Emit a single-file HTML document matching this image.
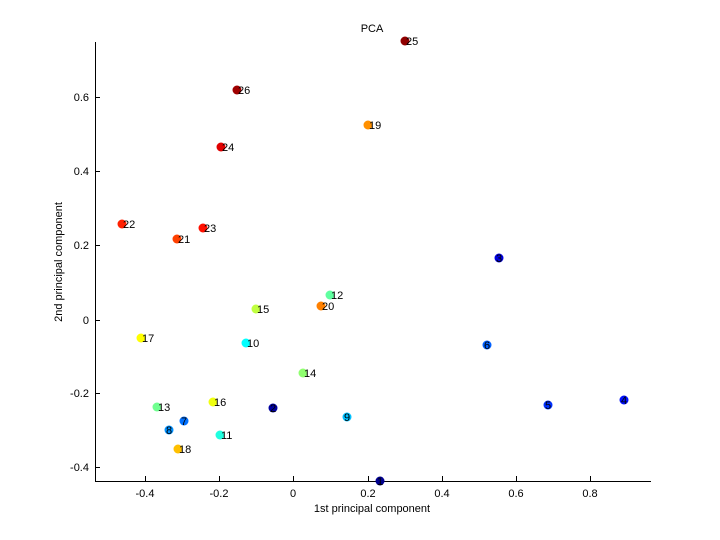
<!DOCTYPE html><html><head><style>body{margin:0;background:#fff}svg{display:block;font-family:"Liberation Sans",sans-serif}</style></head><body>
<svg width="720" height="540" xmlns="http://www.w3.org/2000/svg">
<rect width="720" height="540" fill="#fff"/>
<g stroke="#000" stroke-width="1" fill="none">
<path d="M95.5 42V481.5H651"/>
<path d="M145.5 481v-5M219.5 481v-5M293.5 481v-5M368.5 481v-5M442.5 481v-5M516.5 481v-5M590.5 481v-5"/>
<path d="M95 467.5h5M95 393.5h5M95 320.5h5M95 245.5h5M95 171.5h5M95 97.5h5"/>
</g>
<g font-size="11" fill="#000" text-anchor="middle">
<text x="145" y="497">-0.4</text><text x="219" y="497">-0.2</text><text x="293" y="497">0</text><text x="368" y="497">0.2</text><text x="442" y="497">0.4</text><text x="516" y="497">0.6</text><text x="590" y="497">0.8</text>
<text x="372" y="512">1st principal component</text>
<text x="372" y="32">PCA</text>
</g>
<g font-size="11" fill="#000" text-anchor="end">
<text x="89" y="471">-0.4</text><text x="89" y="397">-0.2</text><text x="89" y="324">0</text><text x="89" y="249">0.2</text><text x="89" y="175">0.4</text><text x="89" y="101">0.6</text>
</g>
<text transform="translate(62,262) rotate(-90)" font-size="11" text-anchor="middle">2nd principal component</text>
<g id="pts">
<circle cx="380" cy="481" r="4.5" fill="#00008f"/>
<circle cx="273" cy="408" r="4.5" fill="#0000a0"/>
<circle cx="499" cy="258" r="4.5" fill="#0000e0"/>
<circle cx="624" cy="400" r="4.5" fill="#0010ff"/>
<circle cx="548" cy="405" r="4.5" fill="#0030ff"/>
<circle cx="487" cy="345" r="4.5" fill="#0060ff"/>
<circle cx="184" cy="421" r="4.5" fill="#0070ff"/>
<circle cx="169" cy="430" r="4.5" fill="#0090ff"/>
<circle cx="347" cy="417" r="4.5" fill="#00c0ff"/>
<circle cx="246" cy="343" r="4.5" fill="#00ffff"/>
<circle cx="220" cy="435" r="4.5" fill="#20ffe0"/>
<circle cx="330" cy="295" r="4.5" fill="#60ffa0"/>
<circle cx="157" cy="407" r="4.5" fill="#70ff90"/>
<circle cx="303" cy="373" r="4.5" fill="#90ff70"/>
<circle cx="256" cy="309" r="4.5" fill="#c0ff40"/>
<circle cx="213" cy="402" r="4.5" fill="#f0ff10"/>
<circle cx="141" cy="338" r="4.5" fill="#ffff00"/>
<circle cx="178" cy="449" r="4.5" fill="#ffc000"/>
<circle cx="368" cy="125" r="4.5" fill="#ff9000"/>
<circle cx="321" cy="306" r="4.5" fill="#ff8000"/>
<circle cx="177" cy="239" r="4.5" fill="#ff4000"/>
<circle cx="122" cy="224" r="4.5" fill="#ff2000"/>
<circle cx="203" cy="228" r="4.5" fill="#ff1000"/>
<circle cx="221" cy="147" r="4.5" fill="#e00000"/>
<circle cx="405" cy="41" r="4.5" fill="#900000"/>
<circle cx="237" cy="90" r="4.5" fill="#a00000"/>
</g>
<g font-size="11" fill="#000">
<text x="377" y="485">1</text><text x="270" y="412">2</text><text x="496" y="262">3</text><text x="621" y="404">4</text><text x="545" y="409">5</text><text x="484" y="349">6</text><text x="181" y="425">7</text><text x="166" y="434">8</text><text x="344" y="421">9</text>
<text x="247" y="347">10</text><text x="221" y="439">11</text><text x="331" y="299">12</text><text x="158" y="411">13</text><text x="304" y="377">14</text><text x="257" y="313">15</text><text x="214" y="406">16</text><text x="142" y="342">17</text><text x="179" y="453">18</text><text x="369" y="129">19</text><text x="322" y="310">20</text><text x="178" y="243">21</text><text x="123" y="228">22</text><text x="204" y="232">23</text><text x="222" y="151">24</text><text x="406" y="45">25</text><text x="238" y="94">26</text>
</g>
</svg></body></html>
